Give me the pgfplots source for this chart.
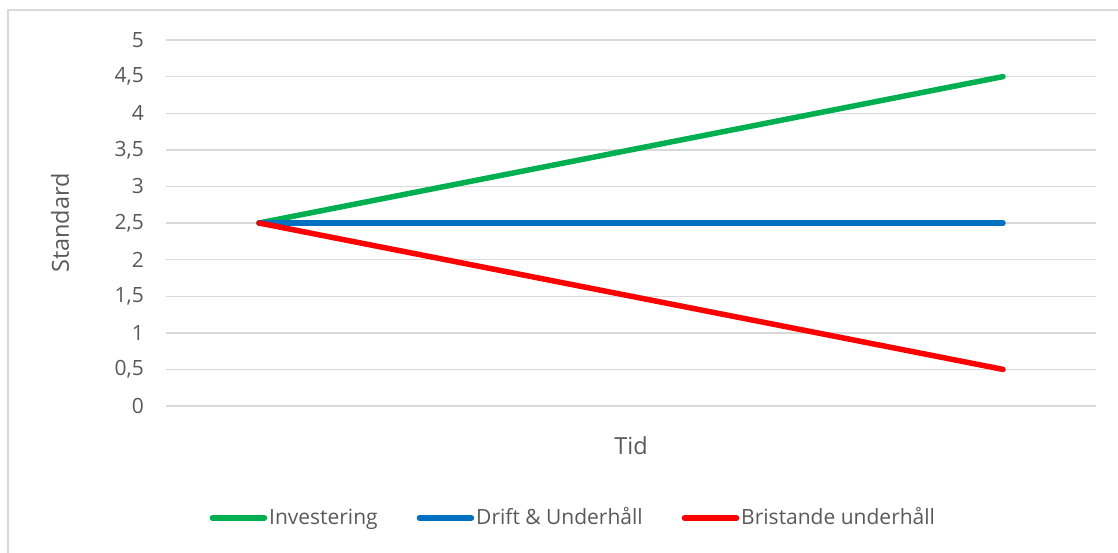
\documentclass[border=0pt]{standalone}
\usepackage{pgfplots}
\pgfplotsset{compat=1.18}
\usepackage{fontspec}
\setmainfont{Open Sans}
\definecolor{txt}{HTML}{595959}
\definecolor{gridc}{HTML}{D9D9D9}
\definecolor{cgreen}{HTML}{00B050}
\definecolor{cblue}{HTML}{0070C0}
\definecolor{cred}{HTML}{FF0000}
\begin{document}
\fontsize{21}{25}\selectfont
\begin{tikzpicture}[x=1pt,y=1pt]
\useasboundingbox (0,0) rectangle (1118,552);
\draw[gridc, line width=2pt] (8,-20) rectangle (1140,542);
\begin{axis}[
  at={(166pt,146pt)}, anchor=south west, scale only axis,
  width=930pt, height=366pt,
  xmin=0, xmax=10, ymin=0, ymax=5,
  axis line style={draw=none},
  xtick=\empty,
  ytick={0,0.5,1,1.5,2,2.5,3,3.5,4,4.5,5},
  ymajorgrids, grid style={gridc, line width=1.4pt},
  major tick length=0pt,
  clip=false,
  /pgf/number format/assume math mode=true,
  /pgf/number format/use comma,
  /pgf/number format/fixed,
  yticklabel style={font=\fontsize{21}{25}\selectfont, text=txt, inner sep=0pt, anchor=east, xshift=-22pt},
  ylabel={Standard},
  ylabel style={at={(axis description cs:-0.114,0.5)}, anchor=center, font=\fontsize{23.5}{28}\selectfont, text=txt},
  xlabel={Tid},
  xlabel style={at={(axis description cs:0.5,-0.109)}, anchor=center, font=\fontsize{23.5}{28}\selectfont, text=txt},
  legend columns=3,
  legend style={draw=none, fill=none, at={(axis description cs:0.438,-0.306)}, anchor=center,
    font=\fontsize{21}{25}\selectfont, text=txt,
    nodes={inner xsep=2pt, inner ysep=0pt},
    /tikz/every even column/.append style={column sep=37pt}},
  legend image code/.code={\draw[#1, line cap=round] (0pt,0pt) -- (52pt,0pt);},
]
\addplot[cgreen, line width=5.5pt, line cap=round, mark=none] coordinates {(1,2.5) (9,4.5)};
\addlegendentry{Investering}
\addplot[cblue, line width=5.5pt, line cap=round, mark=none] coordinates {(1,2.5) (9,2.5)};
\addlegendentry{Drift \& Underhåll}
\addplot[cred, line width=5.5pt, line cap=round, mark=none] coordinates {(1,2.5) (9,0.5)};
\addlegendentry{Bristande underhåll}
\end{axis}
\end{tikzpicture}
\end{document}
